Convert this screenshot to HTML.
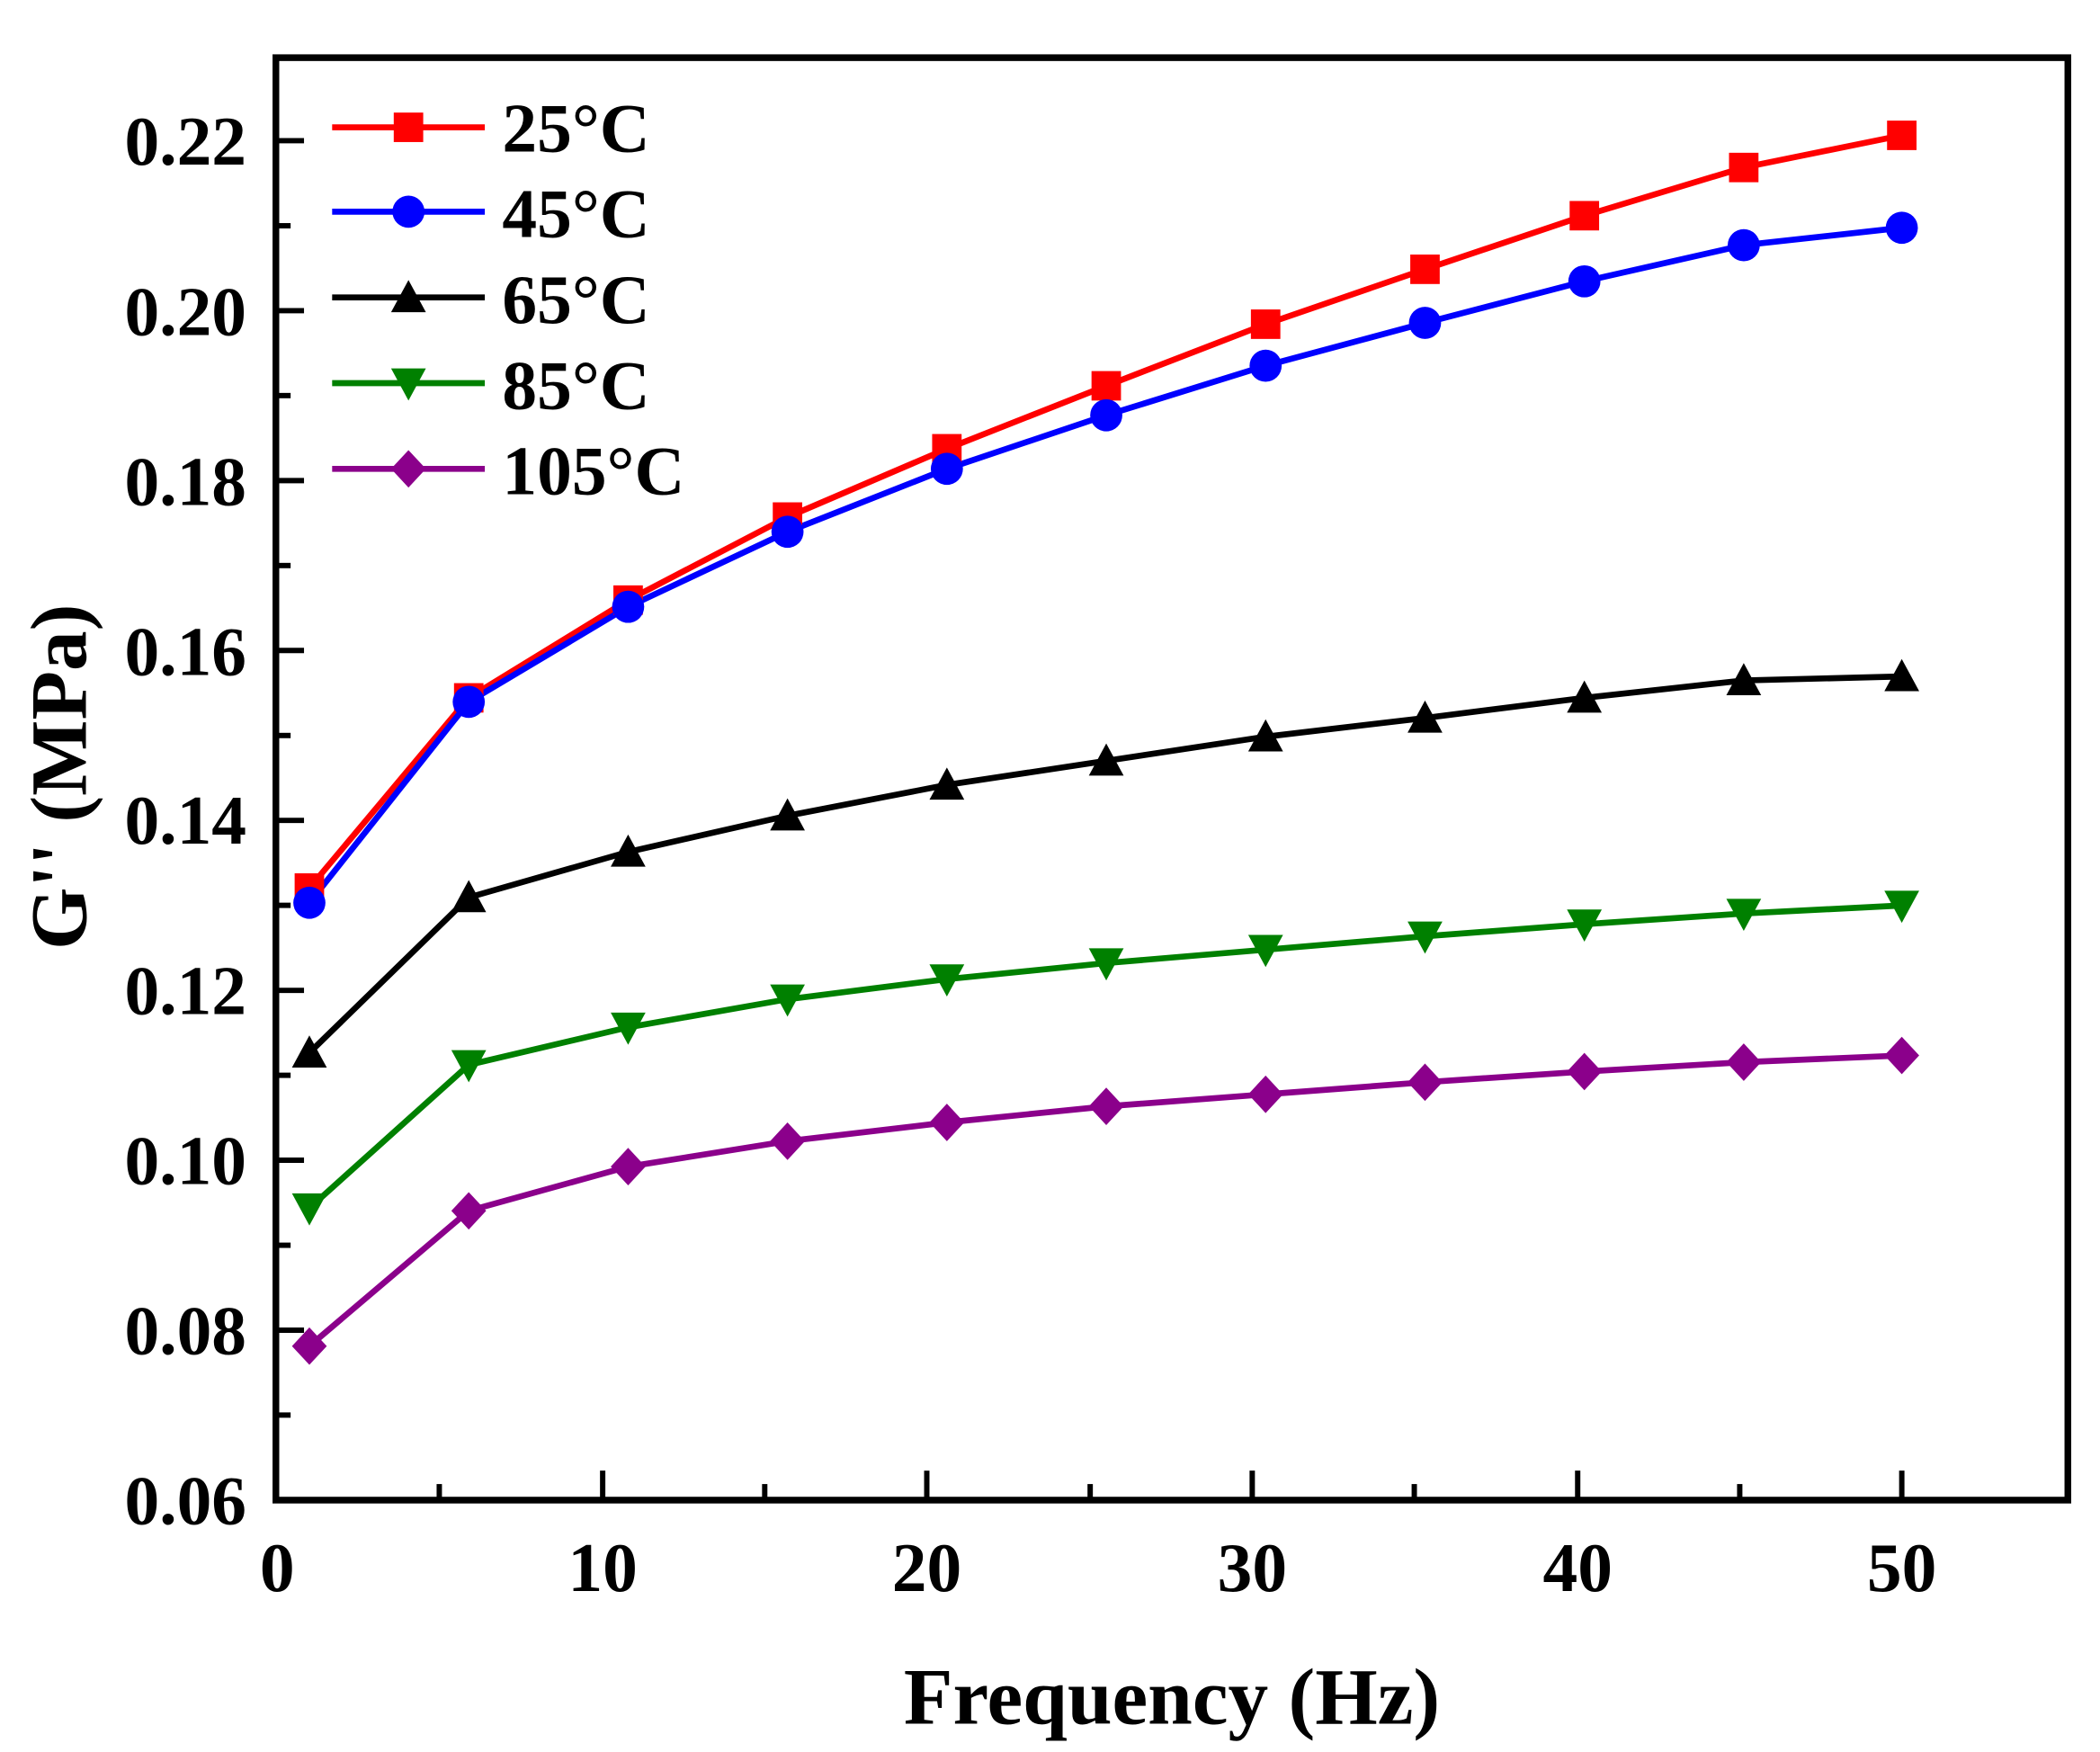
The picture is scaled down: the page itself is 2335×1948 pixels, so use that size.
<!DOCTYPE html>
<html><head><style>html,body{margin:0;padding:0;background:#fff}svg{display:block}</style></head>
<body>
<svg width="2335" height="1948" viewBox="0 0 1568 1308" xmlns="http://www.w3.org/2000/svg" font-family="'Liberation Serif', serif" font-weight="bold">
<defs>
<rect id="sq" x="-11" y="-11" width="22" height="22" fill="#ff0000"/>
<circle id="ci" r="12" fill="#0000ff"/>
<polygon id="tu" points="0,-13 13,11 -13,11" fill="#000"/>
<polygon id="td" points="0,13 13,-11 -13,-11" fill="#008000"/>
<polygon id="di" points="0,-14 13,0 0,14 -13,0" fill="#8b008b"/>
</defs>
<g stroke="#000" stroke-width="4">
<line x1="207" y1="1120" x2="227" y2="1120"/><line x1="207" y1="1056.5" x2="217" y2="1056.5"/>
<line x1="207" y1="993.1" x2="227" y2="993.1"/><line x1="207" y1="929.7" x2="217" y2="929.7"/>
<line x1="207" y1="866.2" x2="227" y2="866.2"/><line x1="207" y1="802.8" x2="217" y2="802.8"/>
<line x1="207" y1="739.4" x2="227" y2="739.4"/><line x1="207" y1="675.9" x2="217" y2="675.9"/>
<line x1="207" y1="612.5" x2="227" y2="612.5"/><line x1="207" y1="549.1" x2="217" y2="549.1"/>
<line x1="207" y1="485.6" x2="227" y2="485.6"/><line x1="207" y1="422.2" x2="217" y2="422.2"/>
<line x1="207" y1="358.8" x2="227" y2="358.8"/><line x1="207" y1="295.3" x2="217" y2="295.3"/>
<line x1="207" y1="231.9" x2="227" y2="231.9"/><line x1="207" y1="168.5" x2="217" y2="168.5"/>
<line x1="207" y1="105" x2="227" y2="105"/>
<line x1="328" y1="1120" x2="328" y2="1108"/><line x1="450" y1="1120" x2="450" y2="1098"/>
<line x1="571" y1="1120" x2="571" y2="1108"/><line x1="692" y1="1120" x2="692" y2="1098"/>
<line x1="814" y1="1120" x2="814" y2="1108"/><line x1="935" y1="1120" x2="935" y2="1098"/>
<line x1="1056" y1="1120" x2="1056" y2="1108"/><line x1="1178" y1="1120" x2="1178" y2="1098"/>
<line x1="1299" y1="1120" x2="1299" y2="1108"/><line x1="1420" y1="1120" x2="1420" y2="1098"/>
</g>
<rect x="206" y="43" width="1338" height="1077" fill="none" stroke="#000" stroke-width="5"/>
<g font-size="52" text-anchor="end">
<text x="184" y="1138">0.06</text><text x="184" y="1011">0.08</text><text x="184" y="884">0.10</text>
<text x="184" y="757">0.12</text><text x="184" y="630">0.14</text><text x="184" y="504">0.16</text>
<text x="184" y="377">0.18</text><text x="184" y="250">0.20</text><text x="184" y="123">0.22</text>
</g>
<g font-size="52" text-anchor="middle">
<text x="207" y="1188">0</text><text x="450" y="1188">10</text><text x="692" y="1188">20</text>
<text x="935" y="1188">30</text><text x="1178" y="1188">40</text><text x="1420" y="1188">50</text>
</g>
<text x="875" y="1287" font-size="60" text-anchor="middle">Frequency (Hz)</text>
<text transform="translate(64,580) rotate(-90)" font-size="60" text-anchor="middle">G'' (MPa)</text>
<g fill="none" stroke-width="4.5">
<polyline stroke="#ff0000" points="231,663 350,521 469,448 588,386 707,335 826,288 945,242 1064,201 1183,161 1302,125 1420,101"/>
<polyline stroke="#0000ff" points="231,674 350,524 469,453 588,397 707,350 826,310 945,273 1064,241 1183,210 1302,183 1420,170"/>
<polyline stroke="#000" points="231,786 350,670 469,636 588,609 707,586 826,568 945,550 1064,536 1183,521 1302,508 1420,505"/>
<polyline stroke="#008000" points="231,902 350,795 469,767 588,746 707,731 826,719 945,709 1064,699 1183,690 1302,682 1420,676"/>
<polyline stroke="#8b008b" points="231,1005 350,904 469,871 588,852 707,838 826,826 945,817 1064,808 1183,800 1302,793 1420,788"/>
</g>
<g>
<use href="#sq" x="231" y="663"/><use href="#sq" x="350" y="521"/><use href="#sq" x="469" y="448"/><use href="#sq" x="588" y="386"/><use href="#sq" x="707" y="335"/><use href="#sq" x="826" y="288"/><use href="#sq" x="945" y="242"/><use href="#sq" x="1064" y="201"/><use href="#sq" x="1183" y="161"/><use href="#sq" x="1302" y="125"/><use href="#sq" x="1420" y="101"/>
<use href="#ci" x="231" y="674"/><use href="#ci" x="350" y="524"/><use href="#ci" x="469" y="453"/><use href="#ci" x="588" y="397"/><use href="#ci" x="707" y="350"/><use href="#ci" x="826" y="310"/><use href="#ci" x="945" y="273"/><use href="#ci" x="1064" y="241"/><use href="#ci" x="1183" y="210"/><use href="#ci" x="1302" y="183"/><use href="#ci" x="1420" y="170"/>
<use href="#tu" x="231" y="786"/><use href="#tu" x="350" y="670"/><use href="#tu" x="469" y="636"/><use href="#tu" x="588" y="609"/><use href="#tu" x="707" y="586"/><use href="#tu" x="826" y="568"/><use href="#tu" x="945" y="550"/><use href="#tu" x="1064" y="536"/><use href="#tu" x="1183" y="521"/><use href="#tu" x="1302" y="508"/><use href="#tu" x="1420" y="505"/>
<use href="#td" x="231" y="902"/><use href="#td" x="350" y="795"/><use href="#td" x="469" y="767"/><use href="#td" x="588" y="746"/><use href="#td" x="707" y="731"/><use href="#td" x="826" y="719"/><use href="#td" x="945" y="709"/><use href="#td" x="1064" y="699"/><use href="#td" x="1183" y="690"/><use href="#td" x="1302" y="682"/><use href="#td" x="1420" y="676"/>
<use href="#di" x="231" y="1005"/><use href="#di" x="350" y="904"/><use href="#di" x="469" y="871"/><use href="#di" x="588" y="852"/><use href="#di" x="707" y="838"/><use href="#di" x="826" y="826"/><use href="#di" x="945" y="817"/><use href="#di" x="1064" y="808"/><use href="#di" x="1183" y="800"/><use href="#di" x="1302" y="793"/><use href="#di" x="1420" y="788"/>
</g>
<g stroke-width="4.5">
<line x1="248" y1="95" x2="362" y2="95" stroke="#ff0000"/>
<line x1="248" y1="158" x2="362" y2="158" stroke="#0000ff"/>
<line x1="248" y1="222" x2="362" y2="222" stroke="#000"/>
<line x1="248" y1="286" x2="362" y2="286" stroke="#008000"/>
<line x1="248" y1="350" x2="362" y2="350" stroke="#8b008b"/>
</g>
<use href="#sq" x="305" y="95"/><use href="#ci" x="305" y="158"/><use href="#tu" x="305" y="222"/><use href="#td" x="305" y="286"/><use href="#di" x="305" y="350"/>
<g font-size="52">
<text x="375" y="113">25°C</text><text x="375" y="177">45°C</text><text x="375" y="241">65°C</text>
<text x="375" y="305">85°C</text><text x="375" y="369">105°C</text>
</g>
</svg>
</body></html>
